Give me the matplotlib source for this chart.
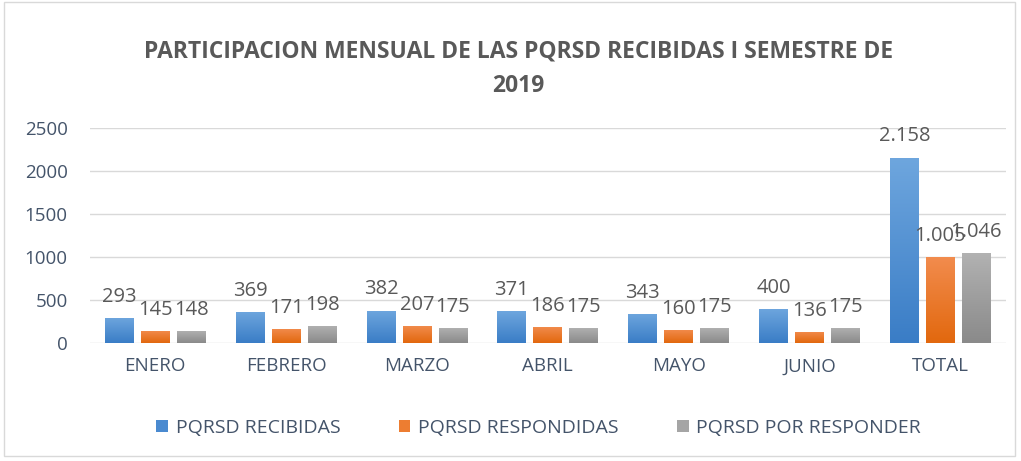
import matplotlib
matplotlib.use('Agg')
from matplotlib import pyplot as plt
from matplotlib.patches import Rectangle
import numpy as np

plt.rcParams['font.family'] = ['Open Sans', 'DejaVu Sans']

meses = ['ENERO', 'FEBRERO', 'MARZO', 'ABRIL', 'MAYO', 'JUNIO', 'TOTAL']
recibidas = [293, 369, 382, 371, 343, 400, 2158]
respondidas = [145, 171, 207, 186, 160, 136, 1005]
por_responder = [148, 198, 175, 175, 175, 175, 1046]
series = ['PQRSD RECIBIDAS', 'PQRSD RESPONDIDAS', 'PQRSD POR RESPONDER']

txt = '#44546A'
tops = ['#6EA6DE', '#F28C4E', '#B2B2B2']
bottoms = ['#3A7DC6', '#E2680E', '#8A8A8A']
solid = ['#4A8AD0', '#ED7D31', '#A5A5A5']

fig = plt.figure(figsize=(10.21, 4.61), dpi=100)
ax = fig.add_axes([0.088, 0.255, 0.897, 0.467])

x = np.arange(len(meses))
w = 0.22
off = 0.275
for k, vals in enumerate([recibidas, respondidas, por_responder]):
    bars = ax.bar(x + (k - 1) * off, vals, w, color=solid[k], label=series[k], zorder=2)
    cmap = matplotlib.colors.LinearSegmentedColormap.from_list('g%d' % k, [bottoms[k], tops[k]])
    for b, v in zip(bars, vals):
        x0, wd = b.get_x(), b.get_width()
        im = ax.imshow(np.linspace(0, 1, 100).reshape(-1, 1), cmap=cmap, origin='lower',
                       extent=[x0, x0 + wd, 0, v], aspect='auto', zorder=2.5)
        im.set_clip_path(b)
        lab = '{:,}'.format(v).replace(',', '.')
        ax.annotate(lab, (x0 + wd / 2, v), xytext=(0, 8), textcoords='offset points',
                    ha='center', va='bottom', fontsize=14.5, color='#595959', zorder=4)

ax.set_xlim(-0.5, len(meses) - 0.5)
ax.set_ylim(0, 2500)
ax.set_yticks(np.arange(0, 2501, 500))
ax.set_xticks(x)
ax.set_xticklabels(meses)
ax.grid(axis='y', color='#D9D9D9', linewidth=1, zorder=0)
for s in ax.spines.values():
    s.set_visible(False)
ax.tick_params(axis='both', length=0, labelsize=13.5, labelcolor=txt)
ax.tick_params(axis='x', pad=10)
ax.tick_params(axis='y', pad=16)

fig.suptitle('PARTICIPACION MENSUAL DE LAS PQRSD RECIBIDAS I SEMESTRE DE\n2019',
             x=0.508, y=0.915, fontsize=16.5, fontweight='bold', color='#595959',
             linespacing=1.6)

ax.legend(loc='upper center', bbox_to_anchor=(0.49, -0.27), ncol=3, frameon=False,
          fontsize=14, labelcolor=txt, handlelength=0.6, handleheight=0.6,
          columnspacing=3.0, handletextpad=0.4)

fig.patches.append(Rectangle((0.004, 0.01), 0.99, 0.985, transform=fig.transFigure,
                             fill=False, edgecolor='#D9D9D9', linewidth=1))

fig.savefig('out.png', dpi=100)
